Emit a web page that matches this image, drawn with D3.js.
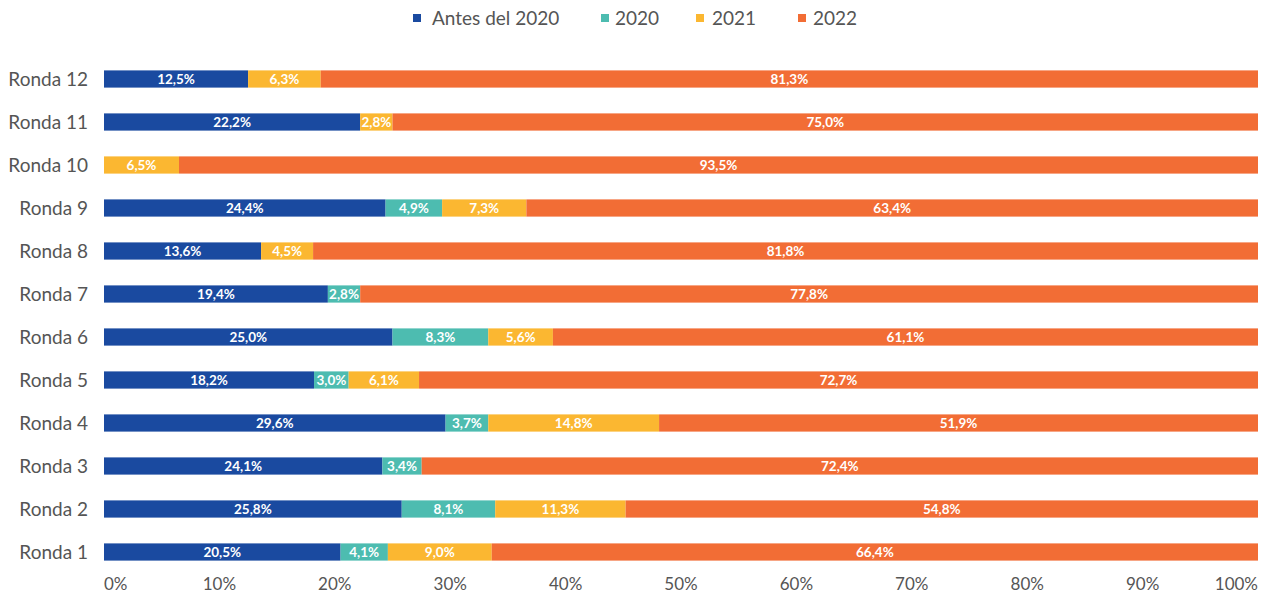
<!DOCTYPE html>
<html lang="es">
<head>
<meta charset="UTF-8">
<title>Rondas</title>
<script src="https://cdn.jsdelivr.net/npm/d3@7"></script>
<style>
  body { margin: 0; background: #fff; }
  svg { font-family: Lato, "Open Sans", sans-serif; }
  .cat { fill: #555; font-size: 19px; }
  .tick-label { fill: #555; font-size: 17px; }
  .legend text { fill: #555; font-size: 19px; }
  .val { fill: #fff; font-size: 13.5px; font-weight: bold; }
</style>
</head>
<body>
<div id="chart"></div>
<script>
  const categories = ['Ronda 12', 'Ronda 11', 'Ronda 10', 'Ronda 9', 'Ronda 8', 'Ronda 7',
    'Ronda 6', 'Ronda 5', 'Ronda 4', 'Ronda 3', 'Ronda 2', 'Ronda 1'];
  const seriesNames = ['Antes del 2020', '2020', '2021', '2022'];
  const antes2020 = [12.5, 22.2, 0, 24.4, 13.6, 19.4, 25.0, 18.2, 29.6, 24.1, 25.8, 20.5];
  const y2020 = [0, 0, 0, 4.9, 0, 2.8, 8.3, 3.0, 3.7, 3.4, 8.1, 4.1];
  const y2021 = [6.3, 2.8, 6.5, 7.3, 4.5, 0, 5.6, 6.1, 14.8, 0, 11.3, 9.0];
  const y2022 = [81.3, 75.0, 93.5, 63.4, 81.8, 77.8, 61.1, 72.7, 51.9, 72.4, 54.8, 66.4];
  const tickValues = [0, 10, 20, 30, 40, 50, 60, 70, 80, 90, 100];
  const colors = ['#1a4aa0', '#4dbcb0', '#fbb731', '#f26d35'];

  const W = 1271, H = 602;
  const x0 = 104, x1 = 1258;

  const rows = categories.map((c, i) => ({
    cat: c,
    'Antes del 2020': antes2020[i],
    '2020': y2020[i],
    '2021': y2021[i],
    '2022': y2022[i]
  }));

  const stacked = d3.stack()
    .keys(seriesNames)
    .offset(d3.stackOffsetExpand)(rows);

  const x = d3.scaleLinear().domain([0, 1]).range([x0, x1]);
  const y = d3.scaleBand()
    .domain(categories)
    .range([57.5, 573.5])
    .paddingInner(0.6)
    .paddingOuter(0.3);
  const color = d3.scaleOrdinal().domain(seriesNames).range(colors);

  const svg = d3.select('#chart').append('svg')
    .attr('width', W)
    .attr('height', H);

  const fmt = v => d3.format('.1f')(v).replace('.', ',') + '%';

  const layers = svg.selectAll('g.layer')
    .data(stacked)
    .enter()
    .append('g')
    .attr('class', 'layer')
    .attr('fill', d => color(d.key));

  layers.selectAll('rect')
    .data(d => d.filter(s => s.data[d.key] > 0))
    .enter()
    .append('rect')
    .attr('x', s => x(s[0]))
    .attr('y', s => y(s.data.cat))
    .attr('width', s => x(s[1]) - x(s[0]))
    .attr('height', y.bandwidth());

  layers.each(function (d) {
    d3.select(this).selectAll('text')
      .data(d.filter(s => s.data[d.key] > 0))
      .enter()
      .append('text')
      .attr('class', 'val')
      .attr('x', s => (x(s[0]) + x(s[1])) / 2)
      .attr('y', s => y(s.data.cat) + y.bandwidth() / 2)
      .attr('dy', '0.36em')
      .attr('text-anchor', 'middle')
      .text(s => fmt(s.data[d.key]));
  });

  // category labels
  svg.selectAll('text.cat')
    .data(categories)
    .enter()
    .append('text')
    .attr('class', 'cat')
    .attr('x', 88)
    .attr('y', c => y(c) + y.bandwidth() / 2)
    .attr('dy', '0.36em')
    .attr('text-anchor', 'end')
    .text(c => c);

  // x axis labels
  svg.selectAll('text.tick-label')
    .data(tickValues)
    .enter()
    .append('text')
    .attr('class', 'tick-label')
    .attr('x', (t, i) => i === 0 ? x(0) : (i === tickValues.length - 1 ? x(1) : x(t / 100)))
    .attr('y', 590)
    .attr('text-anchor', (t, i) => i === 0 ? 'start' : (i === tickValues.length - 1 ? 'end' : 'middle'))
    .text(t => t + '%');

  // legend
  const legendX = [413, 601, 696, 798];
  const legendTextX = [432, 615, 712, 813];
  const legend = svg.append('g').attr('class', 'legend');
  const items = legend.selectAll('g')
    .data(seriesNames)
    .enter()
    .append('g')
    .attr('transform', (d, i) => `translate(${legendX[i]},18)`);
  items.append('rect')
    .attr('x', 0).attr('y', -4)
    .attr('width', 8).attr('height', 8)
    .attr('fill', d => color(d));
  items.append('text')
    .attr('x', (d, i) => legendTextX[i] - legendX[i])
    .attr('dy', '0.36em')
    .text(d => d);
</script>
</body>
</html>
